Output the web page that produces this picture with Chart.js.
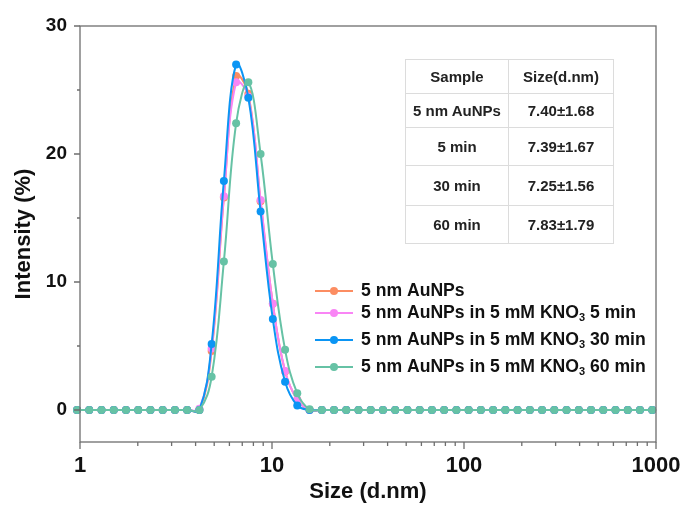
<!DOCTYPE html>
<html>
<head>
<meta charset="utf-8">
<script src="https://cdn.jsdelivr.net/npm/chart.js@4.4.1/dist/chart.umd.min.js"></script>
<style>
  html, body { margin: 0; padding: 0; background: #fff; }
  #wrap { position: relative; width: 684px; height: 509px; }
  #tabla {
    position: absolute; left: 405px; top: 59px; width: 209px;
    border-collapse: collapse; border: 1px solid #a0a0a0;
    font-family: "Liberation Sans", Arial, sans-serif; font-weight: bold;
    font-size: 15px; color: #222; text-align: center;
  }
  #tabla td { border: 1px solid #dcdcdc; padding: 0; }
  #tabla td:first-child { width: 102px; }
</style>
</head>
<body>
<div id="wrap">
  <canvas id="grafico"></canvas>
  <table id="tabla">
    <tr style="height:34px"><td>Sample</td><td>Size(d.nm)</td></tr>
    <tr style="height:34px"><td>5 nm AuNPs</td><td>7.40±1.68</td></tr>
    <tr style="height:38px"><td>5 min</td><td>7.39±1.67</td></tr>
    <tr style="height:40px"><td>30 min</td><td>7.25±1.56</td></tr>
    <tr style="height:38px"><td>60 min</td><td>7.83±1.79</td></tr>
  </table>
</div>
<script>
// tamaños (d.nm) de los bins del equipo
const tamanos = [0.9649, 1.117, 1.294, 1.499, 1.736, 2.010, 2.328, 2.696, 3.122, 3.615,
  4.187, 4.849, 5.615, 6.503, 7.531, 8.721, 10.10, 11.70, 13.54, 15.69,
  18.17, 21.04, 24.36, 28.21, 32.67, 37.84, 43.82, 50.75, 58.77, 68.06,
  78.82, 91.28, 105.7, 122.4, 141.8, 164.2, 190.1, 220.2, 255.0, 295.3,
  342.0, 396.1, 458.7, 531.2, 615.1, 712.4, 825.0, 955.4];

// intensidad (%)
const auNPs  = [0, 0, 0, 0, 0, 0, 0, 0, 0, 0, 0, 4.6, 16.6, 26.1, 24.7, 16.3, 8.3, 3.0, 0.8, 0,
  0, 0, 0, 0, 0, 0, 0, 0, 0, 0, 0, 0, 0, 0, 0, 0, 0, 0, 0, 0, 0, 0, 0, 0, 0, 0, 0, 0];
const min5   = [0, 0, 0, 0, 0, 0, 0, 0, 0, 0, 0.1, 4.8, 16.7, 25.6, 24.5, 16.4, 8.3, 3.05, 0.8, 0,
  0, 0, 0, 0, 0, 0, 0, 0, 0, 0, 0, 0, 0, 0, 0, 0, 0, 0, 0, 0, 0, 0, 0, 0, 0, 0, 0, 0];
const min30  = [0, 0, 0, 0, 0, 0, 0, 0, 0, 0, 0, 5.15, 17.9, 27.0, 24.4, 15.5, 7.1, 2.2, 0.35, 0,
  0, 0, 0, 0, 0, 0, 0, 0, 0, 0, 0, 0, 0, 0, 0, 0, 0, 0, 0, 0, 0, 0, 0, 0, 0, 0, 0, 0];
const min60  = [0, 0, 0, 0, 0, 0, 0, 0, 0, 0, 0, 2.6, 11.6, 22.4, 25.6, 20.0, 11.4, 4.7, 1.3, 0.05,
  0, 0, 0, 0, 0, 0, 0, 0, 0, 0, 0, 0, 0, 0, 0, 0, 0, 0, 0, 0, 0, 0, 0, 0, 0, 0, 0, 0];

const series = [auNPs, min5, min30, min60];
// leyenda: [texto, subindice, resto]
const nombres = [
  ["5 nm AuNPs", "", ""],
  ["5 nm AuNPs in 5 mM KNO", "3", " 5 min"],
  ["5 nm AuNPs in 5 mM KNO", "3", " 30 min"],
  ["5 nm AuNPs in 5 mM KNO", "3", " 60 min"]
];
const colores = ["#fc8d62", "#f985f5", "#0b95f4", "#66c2a5"];

const xMayores = [1, 10, 100, 1000];
const yMayores = [0, 10, 20, 30];
const yMenores = [5, 15, 25];

const fuente = '"Liberation Sans", Arial, sans-serif';

// marco, marcas de ejes y leyenda
const extras = {
  id: "extras",
  afterDraw(chart) {
    const ctx = chart.ctx;
    const a = chart.chartArea;
    const xs = chart.scales.x, ys = chart.scales.y;
    ctx.save();
    ctx.strokeStyle = "#6e6e6e";
    ctx.lineWidth = 1.3;
    ctx.strokeRect(a.left, a.top, a.right - a.left, a.bottom - a.top);

    ctx.beginPath();
    for (let d = 1; d < 1000; d *= 10) {
      for (let m = 1; m <= 9; m++) {
        const px = xs.getPixelForValue(m * d);
        ctx.moveTo(px, a.bottom);
        ctx.lineTo(px, a.bottom + (m === 1 ? 7 : 4));
      }
    }
    const p1000 = xs.getPixelForValue(1000);
    ctx.moveTo(p1000, a.bottom);
    ctx.lineTo(p1000, a.bottom + 7);
    yMayores.forEach(v => {
      const py = ys.getPixelForValue(v);
      ctx.moveTo(a.left, py);
      ctx.lineTo(a.left - 6, py);
    });
    yMenores.forEach(v => {
      const py = ys.getPixelForValue(v);
      ctx.moveTo(a.left, py);
      ctx.lineTo(a.left - 3, py);
    });
    ctx.stroke();

    // leyenda
    const filas = [291, 313, 340, 367];
    nombres.forEach((n, i) => {
      const y = filas[i];
      ctx.strokeStyle = colores[i];
      ctx.lineWidth = 2;
      ctx.beginPath();
      ctx.moveTo(315, y);
      ctx.lineTo(353, y);
      ctx.stroke();
      ctx.fillStyle = colores[i];
      ctx.beginPath();
      ctx.arc(334, y, 4, 0, Math.PI * 2);
      ctx.fill();

      ctx.fillStyle = "#111";
      ctx.textBaseline = "middle";
      ctx.font = "bold 17.6px " + fuente;
      let x = 361;
      ctx.fillText(n[0], x, y);
      x += ctx.measureText(n[0]).width;
      if (n[1]) {
        ctx.font = "bold 11px " + fuente;
        ctx.fillText(n[1], x, y + 5);
        x += ctx.measureText(n[1]).width;
        ctx.font = "bold 17.6px " + fuente;
        ctx.fillText(n[2], x, y);
      }
    });
    ctx.restore();
  }
};

const ctx = document.getElementById("grafico").getContext("2d");
new Chart(ctx, {
  type: "line",
  data: {
    datasets: series.map((s, i) => ({
      label: nombres[i].join(""),
      data: s.map((v, j) => ({ x: tamanos[j], y: v })),
      borderColor: colores[i],
      backgroundColor: colores[i],
      borderWidth: 2,
      pointRadius: 4,
      pointBorderWidth: 0,
      tension: 0.4,
      clip: false,
      order: 4 - i
    }))
  },
  options: {
    responsive: true,
    maintainAspectRatio: false,
    animation: false,
    layout: { padding: { left: 0, right: 28, top: 26, bottom: 0 } },
    plugins: { legend: { display: false }, tooltip: { enabled: false } },
    scales: {
      x: {
        type: "logarithmic",
        min: 1,
        max: 1000,
        grid: { display: false, drawTicks: false },
        border: { display: false },
        afterFit(scale) {
          scale.height = 67;
          scale.paddingLeft = 0;
          scale.paddingRight = 0;
        },
        ticks: {
          autoSkip: false,
          maxRotation: 0,
          padding: 11,
          color: "#111",
          font: { family: fuente, size: 22, weight: "bold" },
          callback: v => xMayores.includes(v) ? String(v) : ""
        },
        title: {
          display: true,
          text: "Size (d.nm)",
          color: "#111",
          font: { family: fuente, size: 22, weight: "bold" },
          padding: { top: 0, bottom: 4 }
        }
      },
      y: {
        min: -2.5,
        max: 30,
        grid: { display: false, drawTicks: false },
        border: { display: false },
        afterFit(scale) { scale.width = 80; },
        ticks: {
          stepSize: 10,
          padding: 13,
          color: "#111",
          font: { family: fuente, size: 19, weight: "bold" },
          callback: v => yMayores.includes(v) ? String(v) : ""
        },
        title: {
          display: true,
          text: "Intensity (%)",
          color: "#111",
          font: { family: fuente, size: 22, weight: "bold" },
          padding: { top: 11, bottom: 0 }
        }
      }
    }
  },
  plugins: [extras]
});
</script>
</body>
</html>
